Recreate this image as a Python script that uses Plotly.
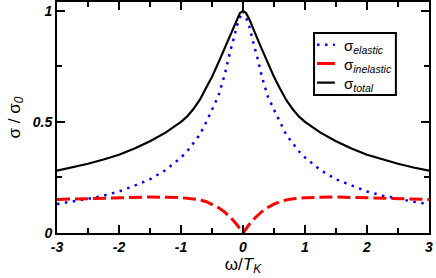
import plotly.graph_objects as go

# omega / T_K sample points
x_pts = [-3.0, -2.75, -2.5, -2.25, -2.0, -1.75, -1.5, -1.25, -1.0, -0.9, -0.8, -0.7, -0.6,
         -0.5, -0.4, -0.3, -0.25, -0.2, -0.15, -0.1, -0.05, 0.0,
         0.05, 0.1, 0.15, 0.2, 0.25, 0.3, 0.4, 0.5, 0.6, 0.7, 0.8, 0.9, 1.0, 1.25, 1.5, 1.75,
         2.0, 2.25, 2.5, 2.75, 3.0]

sigma_total = [0.281, 0.295, 0.312, 0.331, 0.352, 0.380, 0.413, 0.452, 0.500, 0.525, 0.558, 0.598, 0.648,
               0.703, 0.765, 0.830, 0.863, 0.897, 0.933, 0.964, 0.990, 1.000,
               0.990, 0.964, 0.933, 0.897, 0.863, 0.830, 0.765, 0.703, 0.648, 0.598, 0.558, 0.525, 0.500, 0.452, 0.413, 0.380,
               0.352, 0.331, 0.312, 0.295, 0.281]

sigma_elastic = [0.130, 0.141, 0.154, 0.168, 0.187, 0.213, 0.242, 0.283, 0.340, 0.368, 0.405, 0.441, 0.495,
                 0.555, 0.615, 0.708, 0.770, 0.825, 0.875, 0.932, 0.970, 1.000,
                 0.970, 0.932, 0.875, 0.825, 0.770, 0.708, 0.615, 0.555, 0.495, 0.441, 0.405, 0.368, 0.340, 0.283, 0.242, 0.213,
                 0.187, 0.168, 0.154, 0.141, 0.130]

x_inel = [-3.0, -2.5, -2.0, -1.5, -1.0, -0.75, -0.6, -0.5, -0.4, -0.3, -0.2, -0.1, 0.0,
          0.1, 0.2, 0.3, 0.4, 0.5, 0.6, 0.75, 1.0, 1.5, 2.0, 2.5, 3.0]
sigma_inelastic = [0.151, 0.155, 0.159, 0.162, 0.159, 0.152, 0.142, 0.130, 0.115, 0.095, 0.070, 0.038, 0.0,
                   0.038, 0.070, 0.095, 0.115, 0.130, 0.142, 0.152, 0.159, 0.162, 0.159, 0.155, 0.151]

series_names = ["σ<sub><i>elastic</i></sub>", "σ<sub><i>inelastic</i></sub>", "σ<sub><i>total</i></sub>"]

x_ticks = [-3, -2, -1, 0, 1, 2, 3]
x_ticklabels = ["-3", "-2", "-1", "0", "1", "2", "3"]
y_ticks = [0, 0.5, 1]
y_ticklabels = ["0", "0.5", "1"]

FONT = "Liberation Sans"
styles = [
    dict(color="#0000ff", width=2.5, dash="2.5px,5.5px"),
    dict(color="#ff0000", width=3, dash="13px,5px"),
    dict(color="#000000", width=2.2, dash="solid"),
]
legend_styles = [
    dict(color="#0000ff", width=2.5, dash="2.5px,5.5px"),
    dict(color="#ff0000", width=3, dash="solid"),
    dict(color="#000000", width=2.2, dash="solid"),
]

fig = go.Figure()
for xs, ys, name, st in zip([x_pts, x_inel, x_pts], [sigma_elastic, sigma_inelastic, sigma_total],
                            series_names, styles):
    fig.add_trace(go.Scatter(x=xs, y=ys, mode="lines", name=name, line=st, showlegend=False))

# hand-made legend box (paper coordinates)
box = dict(x0=0.691, x1=0.911, y0=0.597, y1=0.866)
fig.add_shape(type="rect", xref="paper", yref="paper", **box,
              line=dict(color="black", width=2), fillcolor="white", layer="above")
row_y = [0.815, 0.734, 0.651]
for ry, name, st in zip(row_y, series_names, legend_styles):
    fig.add_shape(type="line", xref="paper", yref="paper", x0=0.699, x1=0.747, y0=ry, y1=ry,
                  line=st, layer="above")
    fig.add_annotation(xref="paper", yref="paper", x=0.767, y=ry, xanchor="left", yanchor="middle",
                       text=name, showarrow=False, yshift=-2,
                       font=dict(family=FONT, size=15, color="black"))

tickfont = dict(family=FONT, size=14, color="black", weight="bold", style="italic")

fig.update_layout(
    width=436, height=278,
    margin=dict(l=57, r=7, t=2, b=45),
    paper_bgcolor="white", plot_bgcolor="white",
    font=dict(family=FONT, color="black"),
    showlegend=False,
)
fig.update_xaxes(
    range=[-3, 3], tickmode="array", tickvals=x_ticks, ticktext=x_ticklabels,
    ticks="inside", ticklen=8, tickwidth=2, tickcolor="black",
    minor=dict(dtick=0.5, tick0=0, ticks="inside", ticklen=5, tickwidth=2, tickcolor="black"),
    showline=True, linewidth=2, linecolor="black", mirror="allticks",
    showgrid=False, zeroline=False, tickfont=tickfont, automargin=False,
    title=dict(text="ω/<i>T</i><sub><i>K</i></sub>", font=dict(family=FONT, size=17, color="black"), standoff=0),
)
fig.update_yaxes(
    range=[0, 1.04], tickmode="array", tickvals=y_ticks, ticktext=y_ticklabels,
    ticks="inside", ticklen=8, tickwidth=2, tickcolor="black",
    minor=dict(dtick=0.25, tick0=0, ticks="inside", ticklen=5, tickwidth=2, tickcolor="black"),
    showline=True, linewidth=2, linecolor="black", mirror="allticks",
    showgrid=False, zeroline=False, tickfont=tickfont, automargin=False,
    title=dict(text="σ / σ<sub><i>0</i></sub>", font=dict(family=FONT, size=17, color="black"), standoff=8),
)

fig.write_html("out.html", config={"displayModeBar": False, "staticPlot": True},
               post_script="document.body.style.margin='0px';")
